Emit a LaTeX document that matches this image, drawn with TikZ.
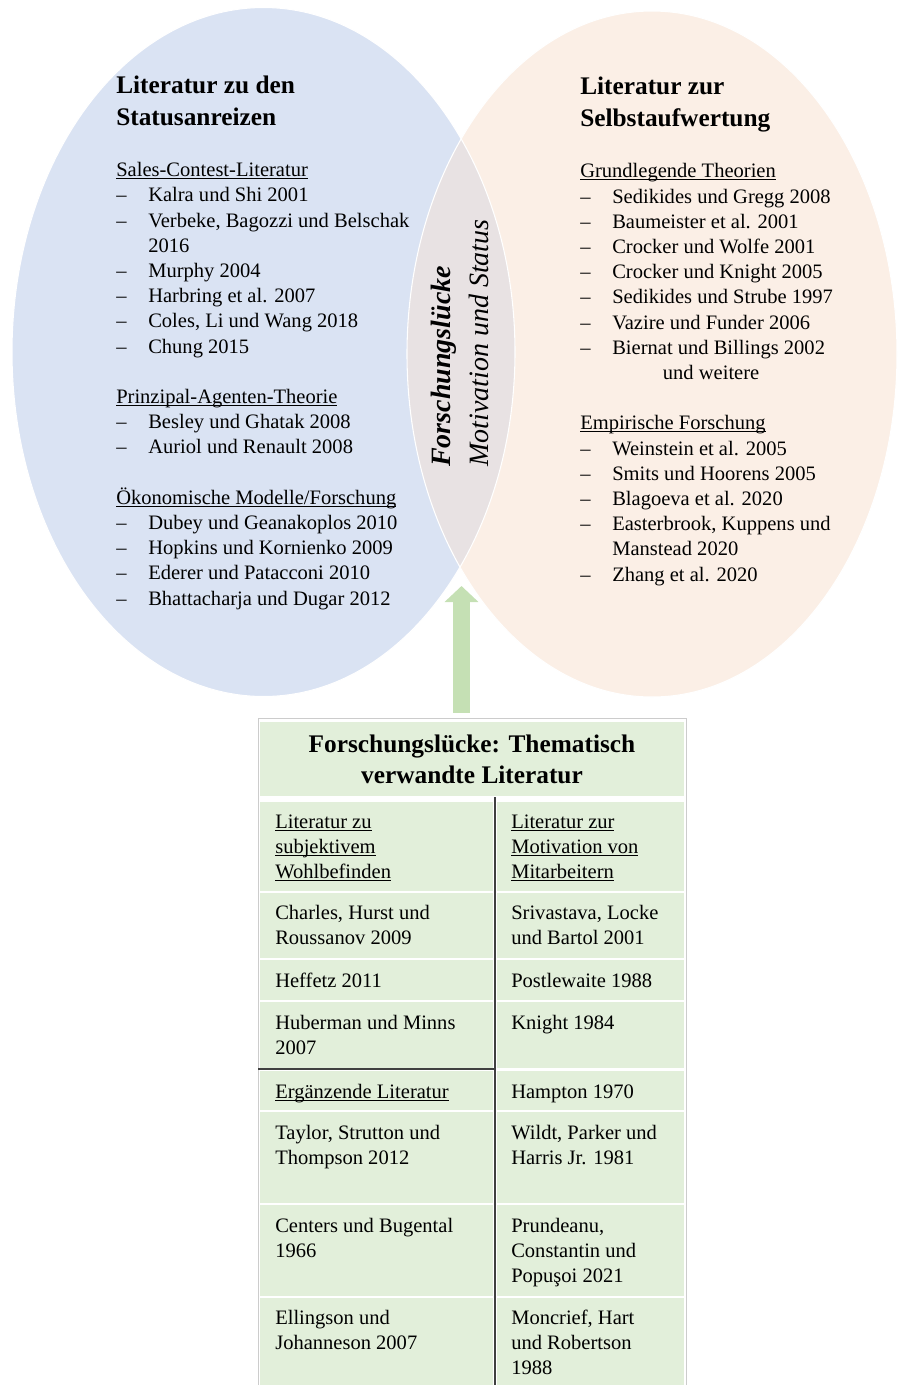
\documentclass[tikz,border=0pt]{standalone}
\usepackage{fontspec}
\setmainfont{Liberation Serif}
\usetikzlibrary{arrows.meta}

\definecolor{statusblue}{HTML}{DAE3F3}
\definecolor{selbstpeach}{HTML}{FBEFE6}
\definecolor{lensgray}{HTML}{E8E2E3}
\definecolor{arrowgreen}{HTML}{C5E0B4}
\definecolor{tabgreen}{HTML}{E2EFDA}

\newcommand{\strich}{\makebox[24pt][l]{--}}
\newcommand{\unterstr}[1]{\underline{\raisebox{0pt}[\height][0pt]{#1}}}

\begin{document}
\begin{tikzpicture}[x=0.75pt,y=-0.75pt,
    headline/.style={font=\bfseries\fontsize{19}{24}\selectfont, align=left, inner sep=0pt, anchor=base west},
    listtext/.style={font=\fontsize{15.4}{18.9}\selectfont, align=left, inner sep=0pt, anchor=base west},
    gaptext/.style={font=\itshape\fontsize{21}{28.5}\selectfont, align=left, inner sep=0pt, anchor=base west, rotate=90},
    titlecell/.style={fill=tabgreen, minimum width=318pt, minimum height=55.5pt, inner sep=0pt, align=center, font=\bfseries\fontsize{19}{23.25}\selectfont},
    celltext/.style={font=\fontsize{15.4}{18.75}\selectfont, align=left, inner sep=0pt, anchor=base west},
    bigarrow/.style={draw=arrowgreen, line width=12.75pt, -{Triangle[length=12pt,width=24.75pt]}},
    tabline/.style={draw=black!75, line width=0.9pt}]
  \useasboundingbox (0,0) rectangle (900,1385);

  % the two circles and their overlap
  \fill[statusblue] (263.5,352) ellipse [x radius=251.5, y radius=344.5];
  \fill[selbstpeach] (652,354) ellipse [x radius=245, y radius=343];
  \begin{scope}
    \clip (263.5,352) ellipse [x radius=251.5, y radius=344.5];
    \fill[lensgray] (652,354) ellipse [x radius=245, y radius=343];
  \end{scope}
  \draw[white, line width=0.8pt] (263.5,352) ellipse [x radius=251.5, y radius=344.5];
  \draw[white, line width=0.8pt] (652,354) ellipse [x radius=245, y radius=343];
  \coordinate (lensbot) at (461.5,586);

  % nodes are set at the baseline of their last line
  \node[headline] (lhead) at (116,125) {Literatur zu den\\Statusanreizen};
  \node[listtext] (llist) at (116,605) {\unterstr{Sales-Contest-Literatur}\\
    \strich Kalra und Shi 2001\\
    \strich Verbeke, Bagozzi und Belschak\\
    \hspace*{24pt}2016\\
    \strich Murphy 2004\\
    \strich Harbring et al. 2007\\
    \strich Coles, Li und Wang 2018\\
    \strich Chung 2015\\[18.9pt]
    \unterstr{Prinzipal-Agenten-Theorie}\\
    \strich Besley und Ghatak 2008\\
    \strich Auriol und Renault 2008\\[18.9pt]
    \unterstr{Ökonomische Modelle/Forschung}\\
    \strich Dubey und Geanakoplos 2010\\
    \strich Hopkins und Kornienko 2009\\
    \strich Ederer und Patacconi 2010\\
    \strich Bhattacharja und Dugar 2012};

  \node[headline] (rhead) at (580,126) {Literatur zur\\Selbstaufwertung};
  \node[listtext] (rlist) at (580,581) {\unterstr{Grundlegende Theorien}\\
    \strich Sedikides und Gregg 2008\\
    \strich Baumeister et al. 2001\\
    \strich Crocker und Wolfe 2001\\
    \strich Crocker und Knight 2005\\
    \strich Sedikides und Strube 1997\\
    \strich Vazire und Funder 2006\\
    \strich Biernat und Billings 2002\\
    \hspace*{62pt}und weitere\\[18.9pt]
    \unterstr{Empirische Forschung}\\
    \strich Weinstein et al. 2005\\
    \strich Smits und Hoorens 2005\\
    \strich Blagoeva et al. 2020\\
    \strich Easterbrook, Kuppens und\\
    \hspace*{24pt}Manstead 2020\\
    \strich Zhang et al. 2020};

  \node[gaptext] (gap) at (488,467) {{\bfseries Forschungslücke}\\Motivation und Status};

  % table below
  \draw[black!20, line width=0.6pt] (258,1385) -- (258,718) -- (686,718) -- (686,1385);
  \node[titlecell] (title) at (472,759) {Forschungslücke: Thematisch\\verwandte Literatur};
  \foreach \t/\b in {802/891, 893/958, 960/1000, 1002/1068, 1071/1110, 1112/1203, 1205/1296, 1298/1385} {
    \fill[tabgreen] (260,\t) rectangle (493,\b);
    \fill[tabgreen] (497,\t) rectangle (684,\b);
  }
  \draw[tabline] (495,797) -- (495,1385);
  \draw[tabline] (258,1069) -- (495,1069);

  \node[celltext] (l1) at (275,878) {\unterstr{Literatur zu}\\\unterstr{subjektivem}\\\unterstr{Wohlbefinden}};
  \node[celltext] (r1) at (511,878) {\unterstr{Literatur zur}\\\unterstr{Motivation von}\\\unterstr{Mitarbeitern}};
  \node[celltext] (l2) at (275,944) {Charles, Hurst und\\Roussanov 2009};
  \node[celltext] (r2) at (511,944) {Srivastava, Locke\\und Bartol 2001};
  \node[celltext] (l3) at (275,987) {Heffetz 2011};
  \node[celltext] (r3) at (511,987) {Postlewaite 1988};
  \node[celltext] (l4) at (275,1054) {Huberman und Minns\\2007};
  \node[celltext] (r4) at (511,1029) {Knight 1984};
  \node[celltext] (l5) at (275,1098) {\unterstr{Ergänzende Literatur}};
  \node[celltext] (r5) at (511,1098) {Hampton 1970};
  \node[celltext] (l6) at (275,1164) {Taylor, Strutton und\\Thompson 2012};
  \node[celltext] (r6) at (511,1164) {Wildt, Parker und\\Harris Jr. 1981};
  \node[celltext] (l7) at (275,1257) {Centers und Bugental\\1966};
  \node[celltext] (r7) at (511,1282) {Prundeanu,\\Constantin und\\Popuşoi 2021};
  \node[celltext] (l8) at (275,1349) {Ellingson und\\Johanneson 2007};
  \node[celltext] (r8) at (511,1374) {Moncrief, Hart\\und Robertson\\1988};

  \draw[bigarrow, shorten <=6.75pt] (title.north -| lensbot) -- (lensbot);
\end{tikzpicture}
\end{document}
